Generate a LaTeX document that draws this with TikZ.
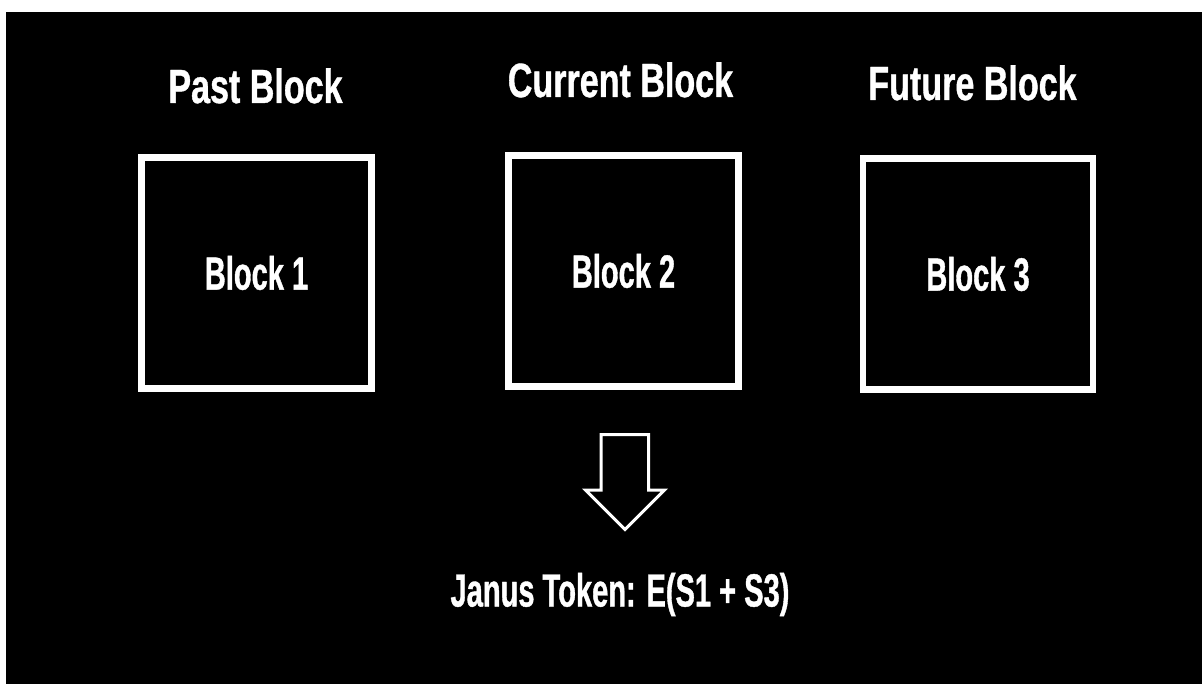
\documentclass[tikz,border=0pt]{standalone}
\usepackage{fontspec}
\usepackage{tikz}
\usetikzlibrary{positioning}
\newfontfamily\titlefont[FakeStretch=0.71,FakeBold=0.8]{Liberation Sans}
\newfontfamily\labelfont[FakeStretch=0.625,FakeBold=0.8]{Liberation Sans}
\tikzset{blockbox/.style={draw=white,line width=6.5pt,minimum width=230pt,minimum height=231pt,inner sep=0pt,
                          text=white,font=\labelfont\bfseries\fontsize{46.5}{50}\selectfont},
         blocktitle/.style={text=white,inner sep=0pt,font=\titlefont\bfseries\fontsize{48}{52}\selectfont},
         tokentext/.style={text=white,inner sep=0pt,font=\labelfont\bfseries\fontsize{46.5}{50}\selectfont}}

\begin{document}
\begin{tikzpicture}[x=1pt,y=-1pt]
            \useasboundingbox (0,0) rectangle (1202,684);
            \fill[white] (0,0) rectangle (1202,684);
            \fill[black] (6,12) rectangle (1202,684);
            % blocks
            \node[blockbox] (b1) at (256.5,273) {Block 1};
            \node[blockbox] (b2) at (623.5,271) {Block 2};
            \node[blockbox] (b3) at (978,274) {Block 3};
            \node[blocktitle,anchor=base] (t1) at (255.5,103) {Past Block};
            \node[blocktitle,anchor=base] (t2) at (620.5,97) {Current Block};
            \node[blocktitle,anchor=base] (t3) at (972.5,100) {Future Block};
            \node[tokentext,anchor=base] (jt) at (620,606.5) {Janus Token: E(S1 + S3)};
            % block arrow
            \draw[white,line width=3pt,line join=miter]
                (601,434.5) -- (648.5,434.5) -- (648.5,490) -- (664.5,490) -- (625,529.5)
                -- (585.5,490) -- (601,490) -- cycle;
        \end{tikzpicture}
\end{document}
